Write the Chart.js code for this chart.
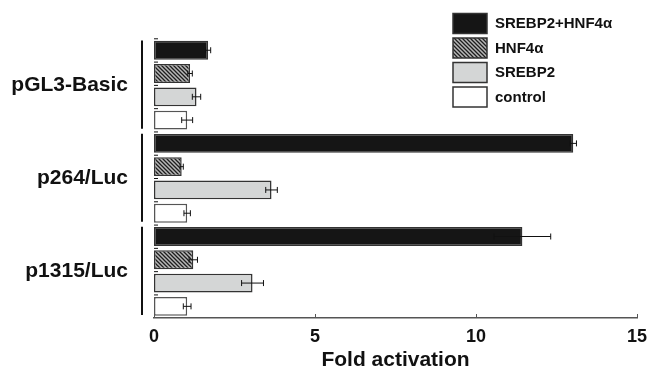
<!DOCTYPE html>
<html>
<head>
<meta charset="utf-8">
<script src="https://cdn.jsdelivr.net/npm/chart.js@4/dist/chart.umd.min.js"></script>
<style>
  body { margin: 0; background: #fff; }
  canvas { display: block; }
</style>
</head>
<body>
<canvas id="foldChart" width="652" height="373"></canvas>
<script>
const constructs = ['pGL3-Basic', 'p264/Luc', 'p1315/Luc'];
const seriesNames = ['SREBP2+HNF4\u03b1', 'HNF4\u03b1', 'SREBP2', 'control'];

const comboValues = [1.68, 13.02, 11.44];
const comboErrors = [0.08, 0.1, 0.88];
const hnfValues = [1.12, 0.86, 1.22];
const hnfErrors = [0.07, 0.05, 0.13];
const srebpValues = [1.32, 3.65, 3.06];
const srebpErrors = [0.13, 0.18, 0.34];
const controlValues = [1.03, 1.03, 1.03];
const controlErrors = [0.17, 0.1, 0.12];

const xTicks = [0, 5, 10, 15];

const FONT = "'Liberation Sans', Arial, sans-serif";

function makeHatch() {
    const size = 4;
    const tile = document.createElement('canvas');
    tile.width = size;
    tile.height = size;
    const c = tile.getContext('2d');
    c.fillStyle = '#b8b8b8';
    c.fillRect(0, 0, size, size);
    c.strokeStyle = '#1e1e1e';
    c.lineWidth = 1.3;
    c.beginPath();
    c.moveTo(-1, -1);
    c.lineTo(size + 1, size + 1);
    c.moveTo(-1, size - 1);
    c.lineTo(1, size + 1);
    c.moveTo(size - 1, -1);
    c.lineTo(size + 1, 1);
    c.stroke();
    return document.getElementById('foldChart').getContext('2d').createPattern(tile, 'repeat');
}

// horizontal error bars with end caps
const errorBars = {
    id: 'errorBars',
    afterDatasetsDraw(chart) {
        const ctx = chart.ctx;
        const xScale = chart.scales.x;
        ctx.save();
        ctx.strokeStyle = '#111';
        ctx.lineWidth = 1;
        chart.data.datasets.forEach((ds, i) => {
            const meta = chart.getDatasetMeta(i);
            meta.data.forEach((bar, j) => {
                const v = ds.data[j];
                const e = ds.errors[j];
                const x1 = xScale.getPixelForValue(v - e);
                const x2 = xScale.getPixelForValue(v + e);
                const y = bar.y;
                ctx.beginPath();
                ctx.moveTo(x1, y);
                ctx.lineTo(x2, y);
                ctx.moveTo(x1, y - 3);
                ctx.lineTo(x1, y + 3);
                ctx.moveTo(x2, y - 3);
                ctx.lineTo(x2, y + 3);
                ctx.stroke();
                // small mark on the value axis above each bar
                ctx.beginPath();
                ctx.moveTo(xScale.left, bar.y - bar.height / 2 - 2);
                ctx.lineTo(xScale.left + 4, bar.y - bar.height / 2 - 2);
                ctx.stroke();
            });
        });
        ctx.restore();
    },
};

// group brackets, inward ticks on x axis, legend box
const decorations = {
    id: 'decorations',
    afterDraw(chart) {
        const ctx = chart.ctx;
        const yScale = chart.scales.y;
        const xScale = chart.scales.x;
        ctx.save();

        const half = (yScale.bottom - yScale.top) / constructs.length / 2;
        ctx.strokeStyle = '#111';
        ctx.lineWidth = 2;
        constructs.forEach((c, i) => {
            const yc = yScale.getPixelForValue(i);
            ctx.beginPath();
            ctx.moveTo(142, yc - half + 2);
            ctx.lineTo(142, yc + half - 3);
            ctx.stroke();
        });

        ctx.strokeStyle = '#555';
        ctx.lineWidth = 1;
        xTicks.forEach((t) => {
            const x = Math.round(xScale.getPixelForValue(t)) + 0.5;
            ctx.beginPath();
            ctx.moveTo(x, xScale.top);
            ctx.lineTo(x, xScale.top - 4);
            ctx.stroke();
        });

        chart.data.datasets.forEach((ds, i) => {
            const bx = 453;
            const by = 13.5 + i * 24.5;
            ctx.fillStyle = ds.backgroundColor;
            ctx.fillRect(bx, by, 34, 20);
            ctx.strokeStyle = '#333';
            ctx.lineWidth = 1.5;
            ctx.strokeRect(bx, by, 34, 20);
            ctx.fillStyle = '#111';
            ctx.font = 'bold 15px ' + FONT;
            ctx.textBaseline = 'middle';
            ctx.textAlign = 'left';
            ctx.fillText(ds.label, 495, by + 10.5);
        });
        ctx.restore();
    },
};

function init() {
    const ctx = document.getElementById('foldChart').getContext('2d');
    const hatch = makeHatch();
    const values = [comboValues, hnfValues, srebpValues, controlValues];
    const errors = [comboErrors, hnfErrors, srebpErrors, controlErrors];
    const fills = ['#151515', hatch, '#d4d6d6', '#ffffff'];
    const borders = ['#333', '#333', '#333', '#555'];

    new Chart(ctx, {
        type: 'bar',
        data: {
            labels: constructs,
            datasets: seriesNames.map((name, i) => ({
                label: name,
                data: values[i],
                errors: errors[i],
                backgroundColor: fills[i],
                borderColor: borders[i],
                borderWidth: 1.5,
                borderSkipped: false,
                categoryPercentage: 1,
                barPercentage: 0.81,
            })),
        },
        options: {
            indexAxis: 'y',
            responsive: false,
            animation: false,
            layout: { padding: { top: 36, right: 15, left: 0, bottom: 0 } },
            scales: {
                x: {
                    min: 0,
                    max: 15,
                    ticks: {
                        stepSize: 5,
                        padding: 8,
                        color: '#111',
                        font: { family: FONT, size: 18, weight: 'bold' },
                    },
                    grid: { display: false, drawTicks: false },
                    border: { display: true, color: '#555', width: 1.5 },
                    title: {
                        display: true,
                        text: 'Fold activation',
                        color: '#111',
                        padding: 0,
                        font: { family: FONT, size: 21, weight: 'bold' },
                    },
                    afterFit: (scale) => {
                        scale.height = 55;
                        scale.paddingLeft = 0;
                        scale.paddingRight = 0;
                    },
                },
                y: {
                    grid: { display: false, drawTicks: false },
                    border: { display: false },
                    ticks: {
                        padding: 26,
                        color: '#111',
                        font: { family: FONT, size: 21, weight: 'bold' },
                    },
                    afterFit: (scale) => {
                        scale.width = 154;
                    },
                },
            },
            plugins: {
                legend: { display: false },
                tooltip: { enabled: false },
            },
        },
        plugins: [errorBars, decorations],
    });
}

document.addEventListener('DOMContentLoaded', init);
</script>
</body>
</html>
